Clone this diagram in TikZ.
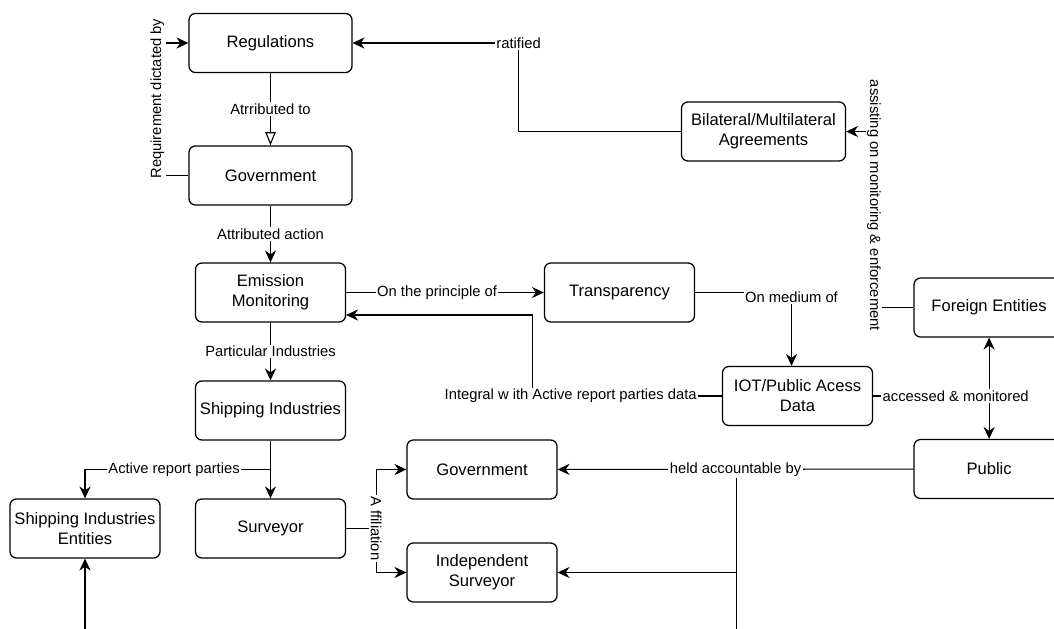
\documentclass[tikz,border=0pt]{standalone}
\usepackage{fontspec}
\setmainfont{Liberation Sans}
\usetikzlibrary{positioning, arrows.meta}

\begin{document}
\begin{tikzpicture}[
        on grid,
        line width=0.8pt,
        >={Stealth[length=0.3cm,width=0.28cm,inset=0.1cm]},
        box/.style={draw, rounded corners=0.16cm, line width=0.9pt,
            minimum width=3.75cm, minimum height=1.475cm, align=center,
            inner sep=1pt, font=\fontsize{11.8}{14.2}\selectfont},
        widebox/.style={box, minimum width=4.075cm},
        lbl/.style={fill=white, inner sep=1pt, font=\fontsize{10.5}{12}\selectfont}
    ]
        \useasboundingbox (0,0) rectangle (26.35,-15.7);

        \node[widebox] (reg) at (6.7625,-1.075) {Regulations};
        \node[widebox] (gov) [below=3.3125cm of reg] {Government};
        \node[box] (emis) [below=2.925cm of gov] {Emission\\Monitoring};
        \node[box] (ship) [below=2.95cm of emis] {Shipping Industries};
        \node[box] (surv) [below=2.95cm of ship] {Surveyor};
        \node[box] (sie) [left=4.6375cm of surv] {Shipping Industries\\Entities};
        \node[box] (trans) [right=8.725cm of emis] {Transparency};
        \node[box, minimum width=4.1cm] (bilat) [above right=4.025cm and 3.6cm of trans] {Bilateral/Multilateral\\Agreements};
        \node[box] (iot) [below right=2.5875cm and 4.45cm of trans] {IOT/Public Acess\\Data};
        \node[box] (public) [below right=1.825cm and 4.79cm of iot] {Public};
        \node[box] (foreign) [above=4.0375cm of public] {Foreign Entities};
        \node[box] (govb) [above right=1.475cm and 5.2875cm of surv] {Government};
        \node[box] (indep) [below=2.575cm of govb] {Independent\\Surveyor};

        % ends that run out of the picture
        \coordinate (offsie) at ([yshift=-2.5cm]sie.south);
        \coordinate (offheld) at ([xshift=4.475cm, yshift=-4.5cm]govb.east);
        \draw[->] (offsie) -- (sie.south);
        \draw (offheld) -- (offheld |- govb.east);
        \draw[->] (offheld) |- (indep.east);

        \path[->]
        (reg) edge[-{Triangle[open,length=0.33cm,width=0.26cm]}] node[lbl] {Atrributed to} (gov)
        (gov) edge node[lbl] {Attributed action} (emis)
        (emis) edge node[lbl] {Particular Industries} (ship)
        (ship) edge (surv)
        (emis) edge node[lbl, pos=0.46] {On the principle of} (trans)
        (public) edge node[lbl] {held accountable by} (govb);

        \draw[->] (gov.west) -- ++(-0.775,0) |- node[lbl, rotate=90, pos=0.29] {Requirement dictated by} (reg.west);
        \draw[->] (bilat.west) -| ([xshift=4.15cm]reg.east) node[lbl] {ratified} -- (reg.east);
        \draw[->] (trans.east) -| node[lbl, pos=0.5, yshift=-0.12cm] {On medium of} ([xshift=-0.15cm]iot.north);
        \draw[->] (iot.west) -- node[lbl, pos=0.8] {Integral w ith Active report parties data} ++(-4.725,0) |- ([yshift=-0.5625cm]emis.east);
        \draw[->] (iot.east) -| (public.north);
        \draw[->] (iot.east) -| node[lbl, pos=0.356] {accessed \& monitored} (foreign.south);
        \draw[->] (foreign.west) -- ++(-0.9875,0) |- node[lbl, rotate=-90, pos=0.29] {assisting on monitoring \& enforcement} (bilat.east);
        \draw[->] (ship.south) -- ++(0,-0.725) -| node[lbl, pos=0.26] {Active report parties} (sie.north);
        \draw[->] (surv.east) -- ++(0.75,0) |- (govb.west);
        \draw[->] (surv.east) -- ++(0.75,0) node[lbl, rotate=-90] {A ffiliation} |- (indep.west);
    \end{tikzpicture}
\end{document}
